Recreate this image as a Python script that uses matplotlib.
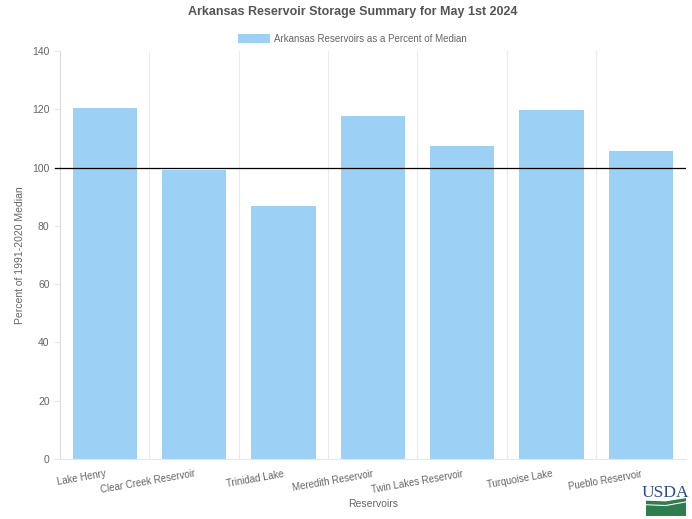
import numpy as np
import matplotlib
matplotlib.use('Agg')
import matplotlib.pyplot as plt
from matplotlib.patches import Polygon

plt.rcParams['font.family'] = ['Liberation Sans', 'DejaVu Sans']

reservoirs = ['Lake Henry', 'Clear Creek Reservoir', 'Trinidad Lake', 'Meredith Reservoir',
              'Twin Lakes Reservoir', 'Turquoise Lake', 'Pueblo Reservoir']
pct_median = [120.4, 99.2, 86.8, 117.7, 107.4, 119.8, 105.7]
y_ticks = [0, 20, 40, 60, 80, 100, 120, 140]

bar_color = '#9dd0f5'
text_gray = '#666666'

fig = plt.figure(figsize=(6.92, 5.19), dpi=100)
ax = fig.add_axes([0.0867, 0.1156, 0.904, 0.786])

x = np.arange(len(reservoirs))
ax.bar(x, pct_median, width=0.72, color=bar_color, zorder=2,
       label='Arkansas Reservoirs as a Percent of Median')

ax.set_xlim(-0.5, len(reservoirs) - 0.5)
ax.set_ylim(0, 140)
ax.set_yticks(y_ticks)
ax.set_xticks(x)
ax.set_xticklabels(reservoirs, rotation=10, ha='right', rotation_mode='anchor',
                   fontsize=7, color=text_gray)
ax.tick_params(axis='y', labelsize=7.5, labelcolor=text_gray, length=4, color='#e6e6e6')
ax.tick_params(axis='x', length=0, pad=7)

# category boundary gridlines
for b in np.arange(-0.5, len(reservoirs), 1.0):
    ax.axvline(b, color='#ebebeb', lw=0.8, zorder=1)

ax.axhline(100, color='black', lw=0.9, zorder=3)
ax.plot([-0.56, -0.5], [100, 100], color='black', lw=0.9, clip_on=False, zorder=3)

for s in ['top', 'right']:
    ax.spines[s].set_visible(False)
ax.spines['left'].set_color('#dddddd')
ax.spines['bottom'].set_color('#e6e6e6')

ax.set_ylabel('Percent of 1991-2020 Median', fontsize=7.5, color=text_gray, labelpad=5)
ax.set_xlabel('Reservoirs', fontsize=7.5, color=text_gray, labelpad=3)

fig.text(0.51, 0.977, 'Arkansas Reservoir Storage Summary for May 1st 2024',
         ha='center', va='center', fontsize=9, fontweight='bold', color='#555555')
ax.legend(loc='center', bbox_to_anchor=(0.468, 1.03), frameon=False,
          fontsize=7, handlelength=3.2, handleheight=1.0, handletextpad=0.5,
          labelcolor=text_gray)

# USDA logo
fig.text(0.962, 0.035, 'USDA', ha='center', va='bottom', fontsize=12.5,
         family='Liberation Serif', color='#2b4a8b')
lax = fig.add_axes([0.933, 0.006, 0.058, 0.035])
lax.set_xlim(0, 1)
lax.set_ylim(0, 1)
lax.axis('off')
lax.add_patch(Polygon([[0, 0], [1, 0], [1, 0.7], [0.5, 0.5], [0, 0.55]], color='#2e7d4f'))
lax.add_patch(Polygon([[0, 0.68], [0.5, 0.64], [1, 0.84], [1, 0.94], [0.5, 0.76], [0, 0.8]],
                      color='#2e7d4f'))

fig.savefig('out.png', dpi=100)
